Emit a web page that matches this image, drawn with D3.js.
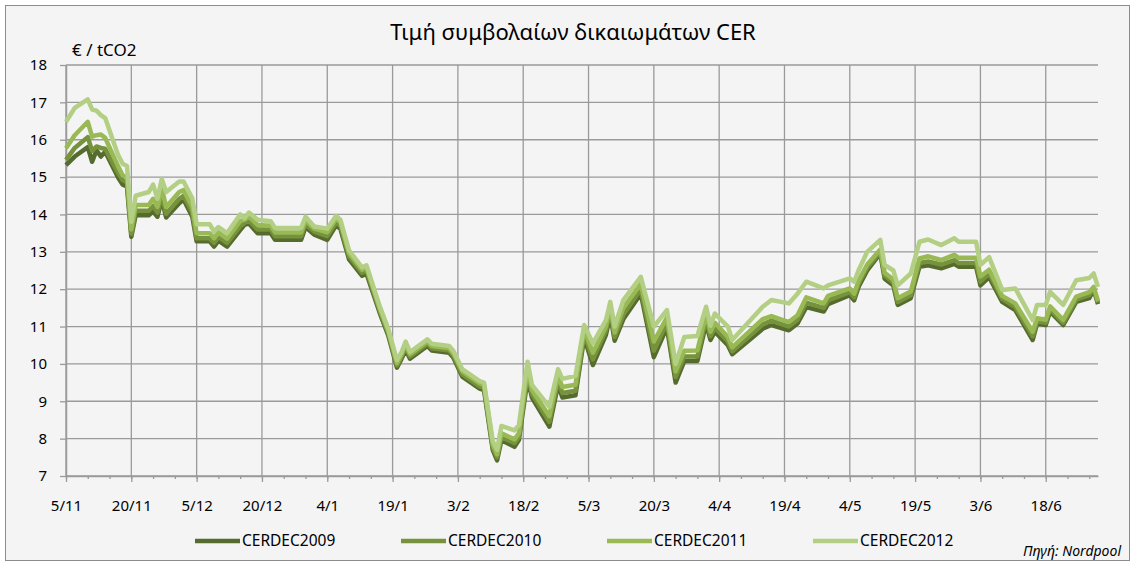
<!DOCTYPE html>
<html>
<head>
<meta charset="utf-8">
<script src="https://cdn.jsdelivr.net/npm/d3@7.9.0/dist/d3.min.js"></script>
<style>
  body { margin: 0; background: #ffffff; }
  svg { display: block; font-family: "Noto Sans", sans-serif; }
</style>
</head>
<body>
<svg id="chart"></svg>
<script>
// trading dates (Nov 2008 - Jun 2009)
const dates = [
  "2008-11-05","2008-11-07","2008-11-10","2008-11-11","2008-11-12","2008-11-13","2008-11-14",
  "2008-11-17","2008-11-18","2008-11-19","2008-11-20","2008-11-21","2008-11-24","2008-11-25",
  "2008-11-26","2008-11-27","2008-11-28","2008-12-01","2008-12-02","2008-12-04","2008-12-05",
  "2008-12-08","2008-12-09","2008-12-10","2008-12-12","2008-12-15","2008-12-16","2008-12-17",
  "2008-12-19","2008-12-22","2008-12-23","2008-12-29","2008-12-30","2009-01-01","2009-01-04",
  "2009-01-06","2009-01-07","2009-01-09","2009-01-12","2009-01-13","2009-01-16","2009-01-18",
  "2009-01-20","2009-01-21","2009-01-22","2009-01-23","2009-01-27","2009-01-28","2009-02-01",
  "2009-02-02","2009-02-04","2009-02-08","2009-02-09","2009-02-11","2009-02-12","2009-02-13",
  "2009-02-16","2009-02-17","2009-02-19","2009-02-20","2009-02-24","2009-02-26","2009-02-27",
  "2009-03-02","2009-03-04","2009-03-06","2009-03-09","2009-03-10","2009-03-11","2009-03-13",
  "2009-03-17","2009-03-20","2009-03-23","2009-03-25","2009-03-27","2009-03-30","2009-04-01",
  "2009-04-02","2009-04-03","2009-04-06","2009-04-07","2009-04-14","2009-04-16","2009-04-20",
  "2009-04-22","2009-04-24","2009-04-28","2009-04-29","2009-05-04","2009-05-05","2009-05-06",
  "2009-05-08","2009-05-11","2009-05-12","2009-05-14","2009-05-15","2009-05-18","2009-05-20",
  "2009-05-22","2009-05-25","2009-05-28","2009-05-29","2009-06-02","2009-06-03","2009-06-05",
  "2009-06-08","2009-06-11","2009-06-15","2009-06-16","2009-06-18","2009-06-19","2009-06-22",
  "2009-06-25","2009-06-28","2009-06-29","2009-06-30"
];

const cerdec2009 = [
  15.32,15.55,15.80,15.41,15.72,15.55,15.68,
  14.98,14.80,14.75,13.40,13.98,13.98,14.08,
  13.94,14.40,13.92,14.30,14.40,13.94,13.28,
  13.28,13.14,13.30,13.14,13.58,13.72,13.76,
  13.50,13.50,13.32,13.32,13.66,13.46,13.32,
  13.70,13.62,12.80,12.36,12.42,11.38,10.76,
  9.90,10.12,10.38,10.14,10.48,10.36,10.30,
  10.16,9.66,9.34,9.30,7.70,7.42,7.96,
  7.78,7.96,9.60,9.10,8.32,9.44,9.10,
  9.16,10.70,9.97,10.78,11.30,10.62,11.20,
  11.88,10.18,10.98,9.50,10.08,10.08,11.08,
  10.64,10.86,10.50,10.26,10.94,11.04,10.90,
  11.08,11.52,11.40,11.60,11.84,11.70,12.06,
  12.50,12.96,12.28,12.10,11.58,11.76,12.60,
  12.64,12.56,12.68,12.60,12.60,12.10,12.32,
  11.66,11.44,10.64,11.08,11.04,11.40,11.04,
  11.66,11.76,11.98,11.60
];

const cerdec2010 = [
  15.46,15.78,16.07,15.70,15.82,15.78,15.76,
  15.10,14.92,14.86,13.48,14.10,14.10,14.22,
  14.05,14.52,14.02,14.42,14.50,14.05,13.36,
  13.36,13.24,13.40,13.24,13.68,13.78,13.84,
  13.60,13.60,13.42,13.42,13.74,13.54,13.42,
  13.78,13.70,12.88,12.44,12.50,11.44,10.82,
  9.96,10.18,10.44,10.20,10.54,10.42,10.36,
  10.22,9.72,9.40,9.36,7.76,7.50,8.04,
  7.88,8.04,9.72,9.20,8.45,9.56,9.22,
  9.28,10.80,10.12,10.90,11.42,10.72,11.32,
  12.00,10.35,11.10,9.65,10.20,10.20,11.20,
  10.74,10.96,10.60,10.34,11.06,11.16,11.00,
  11.18,11.64,11.50,11.70,11.92,11.78,12.14,
  12.58,13.00,12.36,12.18,11.66,11.84,12.70,
  12.74,12.66,12.78,12.70,12.70,12.20,12.42,
  11.74,11.52,10.74,11.14,11.10,11.46,11.10,
  11.72,11.84,12.02,11.64
];

const cerdec2011 = [
  15.77,16.12,16.48,16.08,16.12,16.14,16.05,
  15.28,15.05,15.00,13.60,14.25,14.25,14.42,
  14.20,14.70,14.20,14.60,14.65,14.20,13.50,
  13.50,13.36,13.52,13.35,13.82,13.86,13.94,
  13.72,13.70,13.52,13.52,13.84,13.62,13.52,
  13.88,13.80,12.96,12.52,12.58,11.50,10.88,
  10.02,10.24,10.52,10.26,10.60,10.48,10.42,
  10.28,9.80,9.48,9.44,7.84,7.58,8.14,
  7.98,8.14,9.86,9.30,8.60,9.68,9.38,
  9.44,10.92,10.30,11.00,11.54,10.84,11.50,
  12.14,10.60,11.24,9.80,10.35,10.36,11.34,
  10.86,11.10,10.72,10.44,11.20,11.28,11.12,
  11.30,11.78,11.62,11.82,12.02,11.88,12.22,
  12.66,13.06,12.44,12.26,11.76,11.94,12.82,
  12.88,12.78,12.92,12.84,12.84,12.34,12.52,
  11.82,11.62,10.86,11.22,11.18,11.54,11.18,
  11.80,11.92,12.06,11.68
];

const cerdec2012 = [
  16.48,16.85,17.08,16.81,16.78,16.66,16.58,
  15.58,15.36,15.30,13.80,14.50,14.60,14.80,
  14.42,14.95,14.60,14.88,14.88,14.43,13.74,
  13.74,13.54,13.66,13.50,14.00,13.90,14.05,
  13.86,13.82,13.64,13.64,13.94,13.68,13.62,
  13.96,13.86,13.04,12.58,12.64,11.56,10.94,
  10.10,10.30,10.60,10.32,10.66,10.54,10.48,
  10.34,9.86,9.54,9.50,7.94,7.70,8.34,
  8.22,8.36,10.06,9.44,8.85,9.86,9.60,
  9.68,11.04,10.55,11.17,11.66,11.00,11.71,
  12.33,11.00,11.44,10.00,10.72,10.75,11.53,
  11.02,11.35,11.00,10.64,11.53,11.71,11.62,
  11.88,12.20,12.02,12.10,12.29,12.20,12.50,
  13.00,13.32,12.65,12.50,12.10,12.42,13.27,
  13.33,13.18,13.36,13.27,13.27,12.65,12.86,
  11.98,12.02,11.17,11.58,11.58,11.93,11.58,
  12.24,12.30,12.42,12.06
];

const seriesNames = ["CERDEC2009", "CERDEC2010", "CERDEC2011", "CERDEC2012"];
const seriesColors = ["#566b2e", "#76923c", "#98b954", "#b3cf84"];

const xTickDates = ["2008-11-05","2008-11-20","2008-12-05","2008-12-20","2009-01-04","2009-01-19",
  "2009-02-03","2009-02-18","2009-03-05","2009-03-20","2009-04-04","2009-04-19","2009-05-04",
  "2009-05-19","2009-06-03","2009-06-18"];
const xTickLabels = ["5/11","20/11","5/12","20/12","4/1","19/1","3/2","18/2","5/3","20/3",
  "4/4","19/4","4/5","19/5","3/6","18/6"];
const yTicks = [7, 8, 9, 10, 11, 12, 13, 14, 15, 16, 17, 18];

const title = "Τιμή συμβολαίων δικαιωμάτων CER";
const yLabel = "€ / tCO2";
const source = "Πηγή: Nordpool";

const W = 1135, H = 566;
const margin = { top: 65, right: 37, bottom: 90, left: 66 };
const width = W - margin.left - margin.right;
const height = H - margin.top - margin.bottom;

const parse = d3.utcParse("%Y-%m-%d");
const start = parse("2008-11-05");
const end = parse("2009-06-30");

const svg = d3.select("#chart").attr("width", W).attr("height", H);

// chart area
svg.append("rect")
  .attr("x", 5.5).attr("y", 5.5)
  .attr("width", W - 11).attr("height", H - 11)
  .attr("fill", "#f4f4f4")
  .attr("stroke", "#8c8c8c")
  .attr("stroke-width", 1);

const x = d3.scaleUtc().domain([start, end]).range([0, width]);
const y = d3.scaleLinear().domain([7, 18]).range([height, 0]);

const g = svg.append("g").attr("transform", `translate(${margin.left},${margin.top})`);

// gridlines
g.append("g")
  .selectAll("line")
  .data(yTicks)
  .join("line")
  .attr("x1", 0).attr("x2", width)
  .attr("y1", d => y(d)).attr("y2", d => y(d))
  .attr("stroke", "#9a9a9a")
  .attr("stroke-width", 1.3);

g.append("g")
  .selectAll("line")
  .data(xTickDates.map(parse))
  .join("line")
  .attr("x1", d => x(d)).attr("x2", d => x(d))
  .attr("y1", 0).attr("y2", height)
  .attr("stroke", "#9a9a9a")
  .attr("stroke-width", 1.3);

// minor ticks every 5 days
const minor = d3.range(0, 238, 5).map(k => d3.utcDay.offset(start, k));
g.append("g")
  .attr("transform", `translate(0,${height})`)
  .call(d3.axisBottom(x).tickValues(minor).tickSize(3).tickFormat(""))
  .call(a => a.select(".domain").remove())
  .call(a => a.selectAll("line").attr("stroke", "#9a9a9a").attr("stroke-width", 1.3));

// x axis
const xAxis = g.append("g")
  .attr("transform", `translate(0,${height})`)
  .call(d3.axisBottom(x)
    .tickValues(xTickDates.map(parse))
    .tickSize(6)
    .tickSizeOuter(0)
    .tickPadding(18)
    .tickFormat((d, i) => xTickLabels[i]));
xAxis.select(".domain").attr("stroke", "#9a9a9a").attr("stroke-width", 1.5);
xAxis.selectAll(".tick line").attr("stroke", "#9a9a9a").attr("stroke-width", 1.3);
xAxis.selectAll("text")
  .attr("fill", "#000")
  .style("font-family", "'Noto Sans'")
  .style("font-size", "15px");

// y axis
const yAxis = g.append("g")
  .call(d3.axisLeft(y).tickValues(yTicks).tickSize(6).tickSizeOuter(0).tickPadding(13));
yAxis.select(".domain").attr("stroke", "#9a9a9a").attr("stroke-width", 1.5);
yAxis.selectAll(".tick line").attr("stroke", "#9a9a9a").attr("stroke-width", 1.3);
yAxis.selectAll("text")
  .attr("fill", "#000")
  .style("font-family", "'Noto Sans'")
  .style("font-size", "15px");

// lines
const allSeries = [cerdec2009, cerdec2010, cerdec2011, cerdec2012];
const line = d3.line()
  .x((d, i) => x(parse(dates[i])))
  .y(d => y(d));

allSeries.forEach((values, s) => {
  g.append("path")
    .datum(values)
    .attr("d", line)
    .attr("fill", "none")
    .attr("stroke", seriesColors[s])
    .attr("stroke-width", 4.5)
    .attr("stroke-linejoin", "round");
});

// title
svg.append("text")
  .attr("x", 573)
  .attr("y", 40)
  .attr("text-anchor", "middle")
  .style("font-size", "22px")
  .attr("fill", "#000")
  .text(title);

svg.append("text")
  .attr("x", 72)
  .attr("y", 56)
  .style("font-size", "17px")
  .attr("fill", "#000")
  .text(yLabel);

// legend
const legendX = [195, 401, 607, 813];
const legend = svg.append("g");
seriesNames.forEach((name, i) => {
  legend.append("line")
    .attr("x1", legendX[i]).attr("x2", legendX[i] + 45)
    .attr("y1", 541).attr("y2", 541)
    .attr("stroke", seriesColors[i])
    .attr("stroke-width", 4.5);
  legend.append("text")
    .attr("x", legendX[i] + 47)
    .attr("y", 546)
    .style("font-size", "15.5px")
    .attr("fill", "#000")
    .text(name);
});

svg.append("text")
  .attr("x", 1121)
  .attr("y", 556)
  .attr("text-anchor", "end")
  .style("font-size", "14px")
  .style("font-style", "italic")
  .attr("fill", "#000")
  .text(source);
</script>
</body>
</html>
